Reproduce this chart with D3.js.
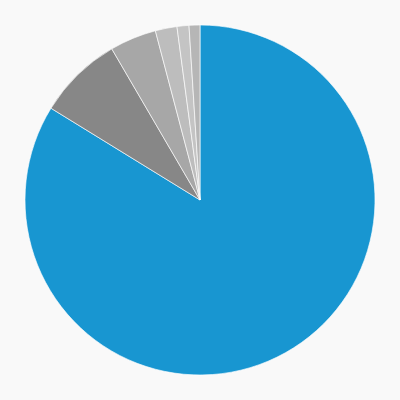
<!DOCTYPE html>
<html><head><meta charset="utf-8">
<script src="https://cdn.jsdelivr.net/npm/d3@7"></script>
<style>html,body{margin:0;padding:0;background:#f9f9f9;}</style>
</head><body>
<svg id="c" width="400" height="400"></svg>
<script>
const categories = ["A","B","C","D","E","F"];
const values = [83.7, 7.8, 4.3, 2.0, 1.1, 1.0];
const colors = ["#1896d1","#878787","#a7a7a7","#bdbdbd","#c4c4c4","#b6b6b6"];

const svg = d3.select("#c");
const g = svg.append("g").attr("transform","translate(200,200)");
const pie = d3.pie().sort(null).value(d=>d.v);
const arc = d3.arc().innerRadius(0).outerRadius(175);
const data = categories.map((c,i)=>({c, v: values[i], col: colors[i]}));
g.selectAll("path").data(pie(data)).join("path")
  .attr("d", arc)
  .attr("fill", d=>d.data.col)
  .attr("stroke","#ffffff")
  .attr("stroke-width",0.8)
  .attr("stroke-opacity",0.8);
</script>
</body></html>
